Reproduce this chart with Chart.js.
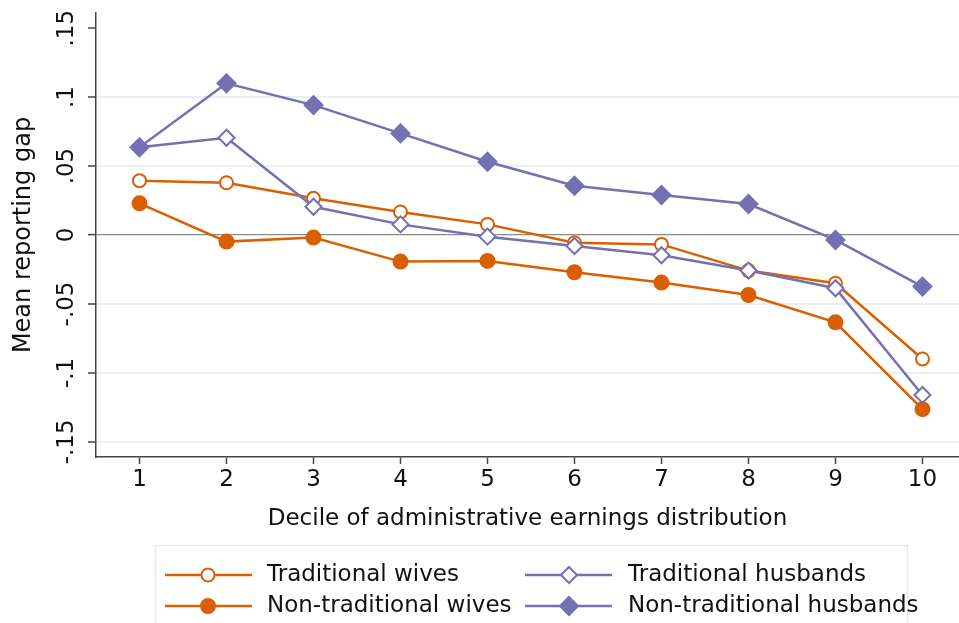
<!DOCTYPE html>
<html><head><meta charset="utf-8">
<script src="https://cdn.jsdelivr.net/npm/chart.js@4.4.1/dist/chart.umd.min.js"></script>
<style>html,body{margin:0;padding:0;background:#fff;overflow:hidden}#wrap{position:relative;width:959px;height:623px}</style>
</head><body><div id="wrap"><canvas id="c" width="959" height="623"></canvas></div>
<script>
const deciles = [1,2,3,4,5,6,7,8,9,10];
const traditionalWives = [0.0394,0.0379,0.0266,0.0167,0.0077,-0.0056,-0.0068,-0.0258,-0.0350,-0.0899];
const nonTraditionalWives = [0.0230,-0.0048,-0.0019,-0.0193,-0.0188,-0.0270,-0.0345,-0.0435,-0.0633,-0.1263];
const traditionalHusbands = [0.0636,0.0705,0.0205,0.0077,-0.0012,-0.0080,-0.0147,-0.0258,-0.0386,-0.1160];
const nonTraditionalHusbands = [0.0636,0.1100,0.0942,0.0737,0.0531,0.0357,0.0290,0.0225,-0.0036,-0.0374];
const seriesNames = ['Traditional wives','Non-traditional wives','Traditional husbands','Non-traditional husbands'];
const yTickValues = [-0.15,-0.1,-0.05,0,0.05,0.1,0.15];
const yTickLabels = ['-.15','-.1','-.05','0','.05','.1','.15'];
const xTickLabels = ['1','2','3','4','5','6','7','8','9','10'];
const xTitle = 'Decile of administrative earnings distribution';
const yTitle = 'Mean reporting gap';

const ORANGE = '#D95F02', PURPLE = '#7570B3';
const FONT = "'DejaVu Sans', sans-serif";
const toPts = arr => arr.map((v,i) => ({x: deciles[i], y: v}));

const specs = [
  {data: traditionalWives, color: ORANGE, style: 'circle', hollow: true, r: 6.5, order: 4},
  {data: nonTraditionalWives, color: ORANGE, style: 'circle', hollow: false, r: 7, order: 3},
  {data: traditionalHusbands, color: PURPLE, style: 'rectRot', hollow: true, r: 8, order: 2},
  {data: nonTraditionalHusbands, color: PURPLE, style: 'rectRot', hollow: false, r: 9, order: 1}
];

const datasets = specs.map((s,i) => ({
  label: seriesNames[i],
  data: toPts(s.data),
  borderColor: s.color,
  borderWidth: 2.5,
  pointStyle: s.style,
  pointRadius: s.r,
  pointBorderWidth: 2,
  pointBorderColor: s.color,
  pointBackgroundColor: s.hollow ? '#ffffff' : s.color,
  tension: 0,
  order: s.order,
  clip: false
}));

function drawMarker(ctx, s, x, y) {
  ctx.save();
  ctx.lineWidth = 2;
  ctx.strokeStyle = s.color;
  ctx.fillStyle = s.hollow ? '#ffffff' : s.color;
  ctx.beginPath();
  if (s.style === 'circle') {
    ctx.arc(x, y, s.r, 0, Math.PI*2);
  } else {
    ctx.moveTo(x, y - s.r); ctx.lineTo(x + s.r, y); ctx.lineTo(x, y + s.r); ctx.lineTo(x - s.r, y); ctx.closePath();
  }
  ctx.fill(); ctx.stroke();
  ctx.restore();
}

const extras = {
  id: 'extras',
  afterDraw(chart) {
    const ctx = chart.ctx;
    const ys = chart.scales.y;
    ctx.save();
    ctx.fillStyle = '#111';
    ctx.font = '23px ' + FONT;
    ctx.textAlign = 'center';
    ctx.textBaseline = 'middle';
    yTickValues.forEach((v,i) => {
      const py = ys.getPixelForValue(v);
      ctx.save();
      ctx.translate(67, py);
      ctx.rotate(-Math.PI/2);
      ctx.fillText(yTickLabels[i], 0, 0);
      ctx.restore();
    });
    ctx.restore();
    // legend
    ctx.save();
    ctx.strokeStyle = '#e1eaec';
    ctx.lineWidth = 1.5;
    ctx.strokeRect(155.5, 545.5, 752, 100);
    const cols = [{l0:165, l1:252, m:208, t:267}, {l0:525, l1:612, m:569, t:628}];
    const rows = [575, 606];
    const order = [[0,0,0],[1,0,1],[2,1,0],[3,1,1]];
    ctx.font = '23px ' + FONT;
    ctx.textBaseline = 'middle';
    ctx.textAlign = 'left';
    order.forEach(([di, ci, ri]) => {
      const s = specs[di], c = cols[ci], y = rows[ri];
      ctx.strokeStyle = s.color; ctx.lineWidth = 2.5;
      ctx.beginPath(); ctx.moveTo(c.l0, y); ctx.lineTo(c.l1, y); ctx.stroke();
      drawMarker(ctx, s, c.m, y);
      ctx.fillStyle = '#111';
      ctx.fillText(seriesNames[di], c.t, y);
    });
    ctx.restore();
  }
};

new Chart(document.getElementById('c'), {
  type: 'line',
  data: {datasets},
  plugins: [extras],
  options: {
    responsive: false,
    animation: false,
    devicePixelRatio: 1,
    layout: {autoPadding: false, padding: {top: 13, right: 0, left: 0, bottom: 0}},
    plugins: {legend: {display: false}, tooltip: {enabled: false}},
    scales: {
      x: {
        type: 'linear', min: 0.5, max: 10.42,
        afterBuildTicks: s => { s.ticks = deciles.map(v => ({value: v})); },
        afterFit: s => { s.height = 166; s.paddingLeft = 0; s.paddingRight = 0; },
        ticks: {callback: (v) => xTickLabels[deciles.indexOf(v)] ?? '', color: '#111', font: {family: FONT, size: 23}, padding: 2, maxRotation: 0, autoSkip: false},
        grid: {drawOnChartArea: false, drawTicks: true, tickLength: 7, tickColor: '#444', tickWidth: 1.5},
        border: {display: true, color: '#444', width: 1.5},
        title: {display: true, text: xTitle, color: '#111', font: {family: FONT, size: 23}, padding: {top: 0, bottom: 90}}
      },
      y: {
        type: 'linear', min: -0.161, max: 0.161,
        afterBuildTicks: s => { s.ticks = yTickValues.map(v => ({value: v})); },
        afterFit: s => { s.width = 96; s.paddingTop = 0; s.paddingBottom = 0; },
        ticks: {display: false},
        grid: {
          drawTicks: true, tickLength: 8, tickColor: '#444', tickWidth: 1.5,
          color: c => { const v = c.tick ? c.tick.value : null; if (v === 0) return '#8a8a8a'; if (v === 0.15) return 'rgba(0,0,0,0)'; return '#e8f0f2'; },
          lineWidth: c => (c.tick && c.tick.value === 0) ? 1.2 : 2
        },
        border: {display: true, color: '#444', width: 1.5},
        title: {display: true, text: yTitle, color: '#111', font: {family: FONT, size: 24}, padding: {top: 9, bottom: 0}}
      }
    }
  }
});
</script>
</body></html>
